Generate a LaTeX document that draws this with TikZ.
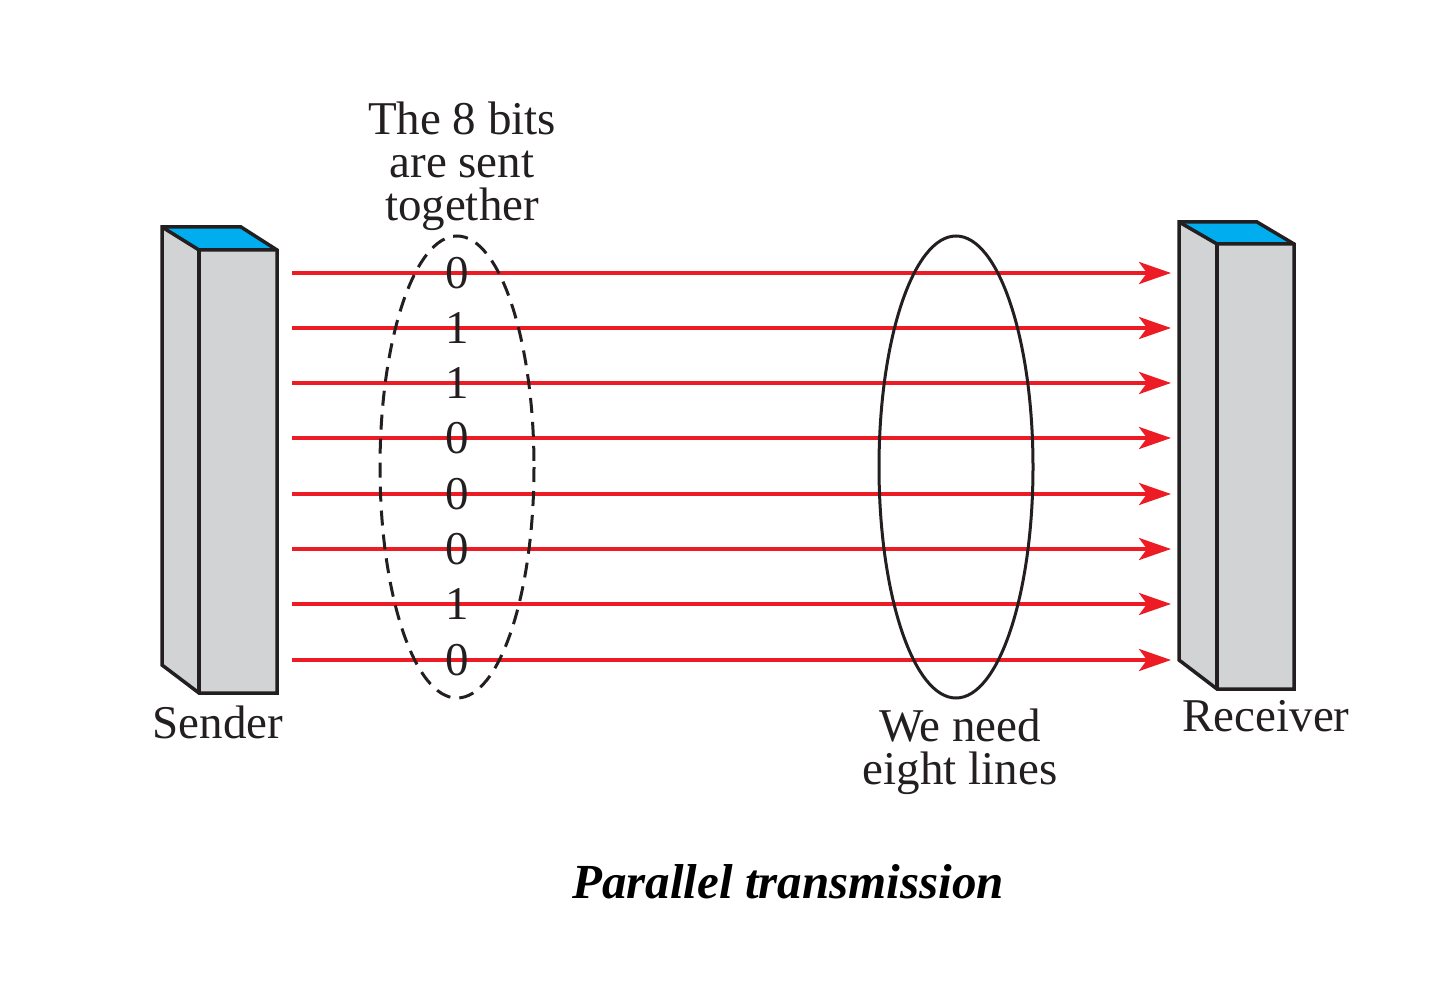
\documentclass[tikz,border=0pt]{standalone}
\usepackage{fontspec}
\setmainfont{Liberation Serif}
\usetikzlibrary{arrows.meta}
\definecolor{linered}{RGB}{237,28,36}
\definecolor{topblue}{RGB}{0,174,239}
\definecolor{boxgray}{RGB}{209,211,212}
\definecolor{ink}{RGB}{35,31,32}
\tikzset{
  boxline/.style={draw=ink, line width=3.5pt, line join=miter},
  wire/.style={draw=linered, line width=3.8pt, -{Stealth[length=32pt,width=22pt,inset=8pt]}},
  bit/.style={inner sep=0pt, text=ink, font=\fontsize{47}{43}\selectfont},
  lbl/.style={inner sep=0pt, align=center, text=ink, font=\fontsize{47}{43}\selectfont},
  groupline/.style={draw=ink, line width=3pt}
}
\begin{document}
\begin{tikzpicture}[x=1pt,y=-1pt]
\useasboundingbox (0,0) rectangle (1439,1000);
% sender
\fill[boxgray] (162,227) -- (199,250) -- (199,693) -- (162,665) -- cycle;
\fill[boxgray] (199,250) rectangle (277,693);
\fill[topblue] (162,227) -- (241,227) -- (277,250) -- (199,250) -- cycle;
\draw[boxline] (162,227) -- (241,227) -- (277,250) -- (277,693) -- (199,693) -- (162,665) -- cycle;
\draw[boxline] (162,227) -- (199,250) -- (277,250);
\draw[boxline] (199,250) -- (199,693);
\node[lbl, anchor=base] (sender) at (218,738) {Sender};
% receiver
\fill[boxgray] (1179,222) -- (1217,244) -- (1217,689) -- (1179,660) -- cycle;
\fill[boxgray] (1217,244) rectangle (1294,689);
\fill[topblue] (1179,222) -- (1257,222) -- (1294,244) -- (1217,244) -- cycle;
\draw[boxline] (1179,222) -- (1257,222) -- (1294,244) -- (1294,689) -- (1217,689) -- (1179,660) -- cycle;
\draw[boxline] (1179,222) -- (1217,244) -- (1294,244);
\draw[boxline] (1217,244) -- (1217,689);
\node[lbl, anchor=base] (receiver) at (1266,731) {Receiver};
% wires
\foreach \i/\y in {1/273,2/328,3/383,4/438,5/494,6/549,7/604,8/660}{
  \coordinate (s\i) at (292,\y);
  \coordinate (r\i) at (1171,\y);
  \draw[wire] (s\i) -- (r\i);
}
% bits
\foreach \i/\b/\y in {1/0/273,2/1/328,3/1/383,4/0/438,5/0/494,6/0/549,7/1/604,8/0/660}{
  \node[bit] (b\i) at (457,\y) {\b};
}
% groups
\draw[groupline, dash pattern=on 15pt off 9pt] (457,467) ellipse [x radius=77, y radius=231];
\draw[groupline] (956,467) ellipse [x radius=77, y radius=231];
\node[lbl] (bitsnote) at (462,166) {The 8 bits\\are sent\\together};
\node[lbl] (linesnote) at (960,752) {We need\\eight lines};
\node[inner sep=0pt, anchor=base, font=\fontsize{49}{49}\selectfont\bfseries\itshape] (caption) at (788,898) {Parallel transmission};
\end{tikzpicture}
\end{document}
